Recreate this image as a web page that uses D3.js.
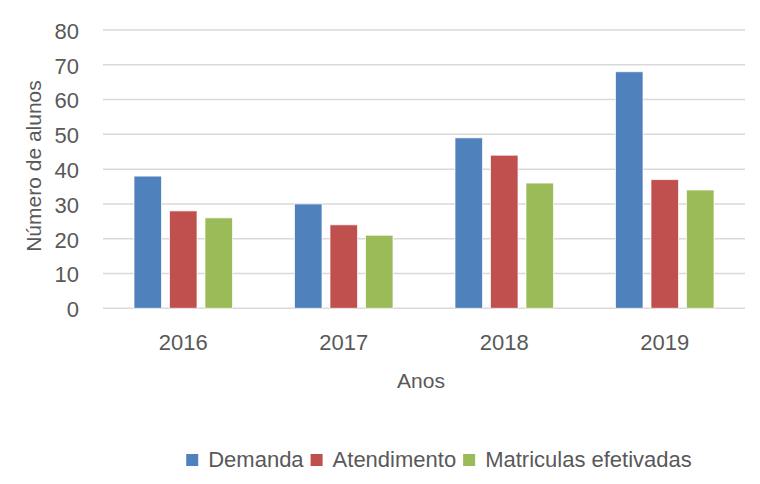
<!DOCTYPE html>
<html>
<head>
<meta charset="utf-8">
<script src="https://cdn.jsdelivr.net/npm/d3@7"></script>
<style>
  body { margin: 0; background: #fff; }
  text { font-family: "Liberation Sans", Arial, sans-serif; fill: #595959; }
</style>
</head>
<body>
<div id="chart"></div>
<script>
var years = ["2016", "2017", "2018", "2019"];
var seriesNames = ["Demanda", "Atendimento", "Matriculas efetivadas"];
var demanda = [38, 30, 49, 68];
var atendimento = [28, 24, 44, 37];
var matriculas = [26, 21, 36, 34];
var yTicks = [0, 10, 20, 30, 40, 50, 60, 70, 80];
var colors = ["#4F81BD", "#C0504D", "#9BBB59"];

var values = [demanda, atendimento, matriculas];
var rows = years.map(function (y, i) {
  return {
    year: y,
    bars: seriesNames.map(function (s, j) {
      return { series: s, value: values[j][i] };
    }),
  };
});

var width = 760;
var height = 484;

var svg = d3
  .select("#chart")
  .append("svg")
  .attr("width", width)
  .attr("height", height);

var x0 = d3.scaleBand().domain(years).range([103, 745]).padding(0);
var x1 = d3
  .scaleBand()
  .domain(seriesNames)
  .range([0, 98.5])
  .paddingInner(0.225)
  .paddingOuter(0);
var groupOffset = (x0.bandwidth() - 98.5) / 2;
var y = d3.scaleLinear().domain([0, 80]).range([308.3, 30]);
var color = d3.scaleOrdinal().domain(seriesNames).range(colors);

// gridlines
svg
  .append("g")
  .selectAll("line")
  .data(yTicks)
  .enter()
  .append("line")
  .attr("x1", 103)
  .attr("x2", 745)
  .attr("y1", function (d) { return y(d); })
  .attr("y2", function (d) { return y(d); })
  .attr("stroke", "#D9D9D9")
  .attr("stroke-width", 1.5);

// y tick labels
svg
  .append("g")
  .selectAll("text")
  .data(yTicks)
  .enter()
  .append("text")
  .attr("x", 79)
  .attr("y", function (d) { return y(d); })
  .attr("dy", "0.4em")
  .attr("text-anchor", "end")
  .style("font-size", "22px")
  .text(function (d) { return d; });

// bars
var groups = svg
  .append("g")
  .selectAll("g")
  .data(rows)
  .enter()
  .append("g")
  .attr("transform", function (d) {
    return "translate(" + (x0(d.year) + groupOffset) + ",0)";
  });

groups
  .selectAll("rect")
  .data(function (d) { return d.bars; })
  .enter()
  .append("rect")
  .attr("x", function (d) { return x1(d.series); })
  .attr("width", x1.bandwidth())
  .attr("y", function (d) { return y(d.value); })
  .attr("height", function (d) { return y(0) - y(d.value); })
  .attr("fill", function (d) { return color(d.series); })
  .attr("stroke", "rgba(255,255,255,0.7)")
  .attr("stroke-width", 1);

// x labels
svg
  .append("g")
  .selectAll("text")
  .data(years)
  .enter()
  .append("text")
  .attr("x", function (d) { return x0(d) + x0.bandwidth() / 2; })
  .attr("y", 350)
  .attr("text-anchor", "middle")
  .style("font-size", "22px")
  .text(function (d) { return d; });

// axis titles
svg
  .append("text")
  .attr("x", 421)
  .attr("y", 388)
  .attr("text-anchor", "middle")
  .style("font-size", "21px")
  .text("Anos");

svg
  .append("text")
  .attr("transform", "translate(41,166) rotate(-90)")
  .attr("text-anchor", "middle")
  .style("font-size", "21px")
  .text("Número de alunos");

// legend
var legend = svg.append("g");
var lx = 0;
seriesNames.forEach(function (s) {
  var item = legend.append("g").attr("transform", "translate(" + lx + ",0)");
  item
    .append("rect")
    .attr("x", 0)
    .attr("y", 454)
    .attr("width", 12)
    .attr("height", 12)
    .attr("fill", color(s));
  var t = item
    .append("text")
    .attr("x", 22)
    .attr("y", 467)
    .style("font-size", "22px")
    .text(s);
  lx += 22 + t.node().getComputedTextLength() + 7;
});
var legendWidth = lx - 7;
legend.attr("transform", "translate(" + (439 - legendWidth / 2) + ",0)");
</script>
</body>
</html>
